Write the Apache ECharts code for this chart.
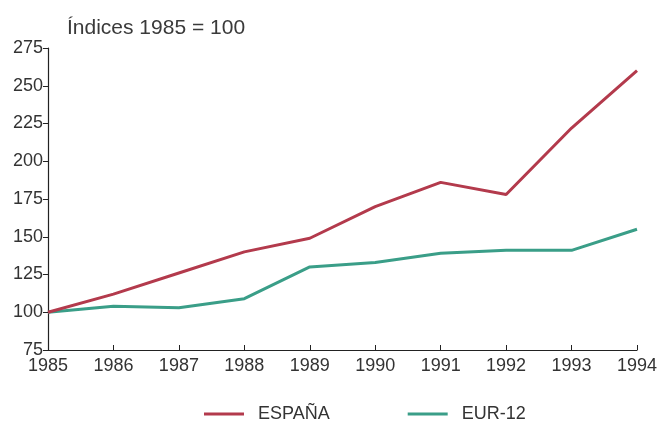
<!DOCTYPE html>
<html>
<head>
<meta charset="utf-8">
<script src="https://cdn.jsdelivr.net/npm/echarts@6/dist/echarts.min.js"></script>
<style>
  html, body { margin: 0; padding: 0; background: #fff; }
  #chart { width: 661px; height: 424px; }
</style>
</head>
<body>
<div id="chart"></div>
<script>
// Índices, base 1985 = 100
const years = ['1985', '1986', '1987', '1988', '1989', '1990', '1991', '1992', '1993', '1994'];
const espana = [100, 112, 126, 140, 149, 170, 186, 178, 222, 260];
const eur12 = [100, 104, 103, 109, 130, 133, 139, 141, 141, 155];

const FONT = "'Liberation Sans', Arial, sans-serif";
const chart = echarts.init(document.getElementById('chart'));

chart.setOption({
  backgroundColor: '#ffffff',
  animation: false,
  title: {
    text: 'Índices 1985 = 100',
    left: 62,
    top: 13,
    textStyle: { fontFamily: FONT, fontSize: 21, fontWeight: 'normal', color: '#3a3a3a' }
  },
  legend: {
    left: 199,
    top: 400,
    itemWidth: 40,
    itemHeight: 3,
    itemGap: 78,
    icon: 'rect',
    textStyle: { fontFamily: FONT, fontSize: 18, color: '#333', padding: [0, 0, 0, 9] },
    data: ['ESPAÑA', 'EUR-12']
  },
  grid: { left: 48, right: 24, top: 48, bottom: 74, containLabel: false },
  xAxis: {
    type: 'category',
    data: years,
    boundaryGap: false,
    axisLine: { lineStyle: { color: '#222', width: 1.2 } },
    axisTick: { inside: true, length: 5, lineStyle: { color: '#222' } },
    axisLabel: { fontFamily: FONT, fontSize: 18, color: '#333', margin: 7 },
    splitLine: { show: false }
  },
  yAxis: {
    type: 'value',
    min: 75,
    max: 275,
    interval: 25,
    axisLine: { show: true, lineStyle: { color: '#222', width: 1.2 } },
    axisTick: { show: true, length: 5, lineStyle: { color: '#222' } },
    axisLabel: { fontFamily: FONT, fontSize: 18, color: '#333', margin: 5 },
    splitLine: { show: false }
  },
  series: [
    {
      name: 'EUR-12',
      type: 'line',
      data: eur12,
      showSymbol: false,
      symbol: 'none',
      z: 2,
      lineStyle: { color: '#3a9e88', width: 3 },
      itemStyle: { color: '#3a9e88' }
    },
    {
      name: 'ESPAÑA',
      type: 'line',
      data: espana,
      showSymbol: false,
      symbol: 'none',
      z: 3,
      lineStyle: { color: '#b33a4c', width: 3 },
      itemStyle: { color: '#b33a4c' }
    }
  ]
});
</script>
</body>
</html>
